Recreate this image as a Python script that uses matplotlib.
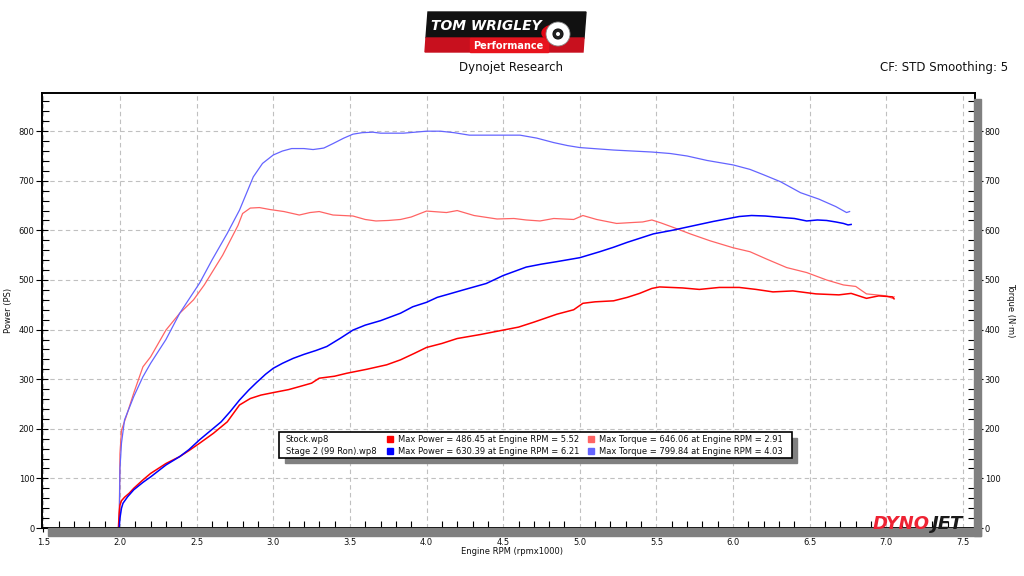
import matplotlib
matplotlib.use('Agg')
import matplotlib.pyplot as plt
from matplotlib.patches import Rectangle, Ellipse, Polygon, Wedge
from matplotlib.ticker import MultipleLocator

# Stock.wp8 - power (PS)
stock_pwr_rpm = [1.99, 1.995, 2.0, 2.01, 2.03, 2.06, 2.09, 2.15, 2.2, 2.3, 2.39, 2.45,
                 2.52, 2.61, 2.7, 2.78, 2.85, 2.92, 3.0, 3.1, 3.17, 3.25, 3.3, 3.4,
                 3.48, 3.61, 3.74, 3.83, 3.92, 4.0, 4.1, 4.2, 4.35, 4.5, 4.6, 4.7,
                 4.85, 4.96, 5.02, 5.1, 5.22, 5.31, 5.39, 5.47, 5.52, 5.67, 5.78,
                 5.91, 6.04, 6.15, 6.26, 6.39, 6.54, 6.69, 6.77, 6.87, 6.95, 7.04, 7.05]
stock_pwr = [0, 30, 46, 55, 62, 70, 80, 97, 110, 130, 144, 156,
             171, 191, 214, 248, 261, 268, 273, 279, 285, 292, 302, 306,
             312, 320, 329, 339, 352, 364, 372, 382, 390, 399, 405, 415,
             431, 440, 453, 456, 458, 465, 473, 483, 486, 484, 481,
             485, 485, 481, 476, 478, 472, 470, 473, 463, 468, 466, 462]

# Stock.wp8 - torque (N-m)
stock_trq_rpm = [1.995, 2.0, 2.01, 2.04, 2.09, 2.15, 2.2, 2.3, 2.39, 2.48, 2.55, 2.61,
                 2.67, 2.72, 2.77, 2.8, 2.85, 2.91, 2.98, 3.07, 3.17, 3.24, 3.3, 3.39,
                 3.52, 3.6, 3.67, 3.75, 3.83, 3.9, 4.0, 4.13, 4.2, 4.31, 4.46, 4.57,
                 4.65, 4.74, 4.83, 4.96, 5.02, 5.11, 5.24, 5.35, 5.41, 5.47, 5.53,
                 5.61, 5.72, 5.85, 6.0, 6.11, 6.22, 6.35, 6.48, 6.61, 6.72, 6.8,
                 6.87, 7.0, 7.04, 7.05]
stock_trq = [0, 150, 197, 224, 272, 325, 345, 399, 433, 460, 490, 520,
             550, 580, 610, 634, 645, 646, 642, 638, 631, 636, 638, 631,
             629, 622, 619, 620, 622, 627, 639, 636, 640, 630, 623, 624,
             621, 619, 624, 622, 630, 622, 614, 616, 617, 621, 615,
             606, 593, 579, 565, 557, 542, 525, 515, 500, 490, 487,
             472, 468, 463, 466]

# Stage 2 (99 Ron).wp8 - power (PS)
stage2_pwr_rpm = [1.995, 2.0, 2.01, 2.02, 2.05, 2.09, 2.15, 2.2, 2.3, 2.39, 2.45, 2.52,
                  2.59, 2.66, 2.72, 2.78, 2.84, 2.89, 2.95, 3.0, 3.06, 3.13, 3.2, 3.28,
                  3.35, 3.44, 3.52, 3.6, 3.7, 3.83, 3.91, 4.0, 4.07, 4.15, 4.24, 4.39,
                  4.5, 4.65, 4.75, 4.85, 5.0, 5.13, 5.22, 5.31, 5.39, 5.48, 5.6, 5.72,
                  5.87, 6.04, 6.12, 6.21, 6.32, 6.4, 6.48, 6.55, 6.61, 6.67, 6.72,
                  6.75, 6.77]
stage2_pwr = [0, 20, 40, 50, 63, 77, 92, 103, 127, 144, 158, 178,
              196, 214, 235, 258, 278, 293, 310, 322, 332, 342, 350, 358,
              366, 383, 399, 409, 418, 433, 446, 455, 465, 472, 480, 493,
              509, 526, 532, 537, 545, 557, 566, 576, 584, 593, 600, 608,
              618, 628, 630, 629, 626, 624, 619, 621, 620, 617, 614,
              611, 612]

# Stage 2 (99 Ron).wp8 - torque (N-m)
stage2_trq_rpm = [1.995, 2.0, 2.01, 2.03, 2.09, 2.15, 2.2, 2.3, 2.39, 2.52, 2.6, 2.7,
                  2.78, 2.87, 2.93, 3.0, 3.06, 3.12, 3.2, 3.26, 3.33, 3.39, 3.46, 3.52,
                  3.58, 3.65, 3.7, 3.85, 4.0, 4.09, 4.18, 4.28, 4.45, 4.61, 4.72, 4.83,
                  4.92, 5.0, 5.22, 5.47, 5.59, 5.7, 5.83, 6.0, 6.11, 6.2, 6.31, 6.44,
                  6.56, 6.67, 6.74, 6.76]
stage2_trq = [0, 120, 171, 218, 265, 305, 332, 380, 433, 494, 540, 594,
              641, 708, 735, 752, 760, 765, 765, 763, 766, 775, 786, 794,
              797, 798, 796, 796, 800, 800, 797, 792, 792, 792, 786, 777,
              771, 767, 762, 758, 755, 750, 741, 732, 723, 712, 698, 676,
              663, 648, 636, 638]

run_names = ['Stock.wp8', 'Stage 2 (99 Ron).wp8']
max_power_txt = ['Max Power = 486.45 at Engine RPM = 5.52',
                 'Max Power = 630.39 at Engine RPM = 6.21']
max_torque_txt = ['Max Torque = 646.06 at Engine RPM = 2.91',
                  'Max Torque = 799.84 at Engine RPM = 4.03']

PWR_COLORS = ['#ff0000', '#0000ff']
TRQ_COLORS = ['#ff6464', '#6464ff']
TXT = '#101010'
W, H = 1024, 576


# pixel (from top-left) -> figure fraction
def fx(x):
    return x / W


def fy(y):
    return 1 - y / H


def box(x0, y0, x1, y1, **kw):
    fig.patches.append(Rectangle((fx(x0), fy(y1)), fx(x1) - fx(x0), fy(y0) - fy(y1),
                                 transform=fig.transFigure, **kw))


fig = plt.figure(figsize=(W / 100, H / 100), dpi=100)
plt.rcParams['font.family'] = ['DejaVu Sans']

# drop shadow of the plot frame
box(48, 528, 981, 536, color='#808080', zorder=0)
box(974, 99, 981, 536, color='#808080', zorder=0)

ax = fig.add_axes([fx(42), fy(528), fx(975) - fx(42), fy(93) - fy(528)])
ax.set_xlim(1.4915, 7.578)
ax.set_ylim(0, 877)

ax.plot(stock_trq_rpm, stock_trq, color=TRQ_COLORS[0], lw=0.9)
ax.plot(stage2_trq_rpm, stage2_trq, color=TRQ_COLORS[1], lw=0.9)
ax.plot(stock_pwr_rpm, stock_pwr, color=PWR_COLORS[0], lw=1.1)
ax.plot(stage2_pwr_rpm, stage2_pwr, color=PWR_COLORS[1], lw=1.1)

ax.xaxis.set_minor_locator(MultipleLocator(0.1))
ax.yaxis.set_major_locator(MultipleLocator(100))
ax.yaxis.set_minor_locator(MultipleLocator(20))
ax.set_xticks([1.5 + 0.5 * i for i in range(13)])
ax.set_xticklabels(['%.1f' % (1.5 + 0.5 * i) for i in range(13)])
ax.grid(True, which='major', color='#c0c0c0', ls=(0, (4, 3)), lw=0.8)
ax.tick_params(axis='x', which='major', direction='out', length=3, labelsize=6,
               labelcolor=TXT, pad=4)
ax.tick_params(axis='x', which='minor', direction='in', length=5, width=0.8)
ax.tick_params(axis='y', which='major', direction='inout', length=9, labelsize=6,
               labelcolor=TXT, pad=1)
ax.tick_params(axis='y', which='minor', direction='in', length=5, width=0.8)
for s in ax.spines.values():
    s.set_linewidth(1.2)

ax2 = ax.twinx()
ax2.set_ylim(0, 877)
ax2.yaxis.set_major_locator(MultipleLocator(100))
ax2.yaxis.set_minor_locator(MultipleLocator(20))
ax2.tick_params(axis='y', which='major', direction='out', length=6, labelsize=6,
                labelcolor=TXT, pad=1)
ax2.tick_params(axis='y', which='minor', direction='in', length=5, width=0.8)
for s in ax2.spines.values():
    s.set_linewidth(1.2)

fig.text(fx(9), fy(310), 'Power (PS)', rotation=90, fontsize=6, color=TXT,
         ha='center', va='center')
fig.text(fx(1011), fy(310), 'Torque (N\u00b7m)', rotation=270, fontsize=6, color=TXT,
         ha='center', va='center')
fig.text(fx(512), fy(552), 'Engine RPM (rpmx1000)', fontsize=6, color=TXT,
         ha='center', va='center')

# header texts
fig.text(fx(511), fy(67), 'Dynojet Research', fontsize=8.5, color=TXT,
         ha='center', va='center')
fig.text(fx(1008), fy(67), 'CF: STD Smoothing: 5', fontsize=8.5, color=TXT,
         ha='right', va='center')

# Tom Wrigley logo
fig.patches.append(Polygon([(fx(428), fy(12)), (fx(586), fy(12)), (fx(584), fy(38)),
                            (fx(426), fy(38))], closed=True, transform=fig.transFigure,
                           color='#111111'))
fig.patches.append(Polygon([(fx(426), fy(38)), (fx(584), fy(38)), (fx(583), fy(52)),
                            (fx(425), fy(52))], closed=True, transform=fig.transFigure,
                           color='#c8101e'))
box(470, 38, 548, 52, color='#e8141e')
fig.patches.append(Wedge((fx(557), fy(33)), 15 / W, 80, 250, width=4 / W,
                         transform=fig.transFigure, color='#e30613'))
fig.patches.append(Ellipse((fx(558), fy(34)), 24 / W, 24 / H, transform=fig.transFigure,
                           facecolor='white', edgecolor='#888888', lw=0.6))
fig.patches.append(Ellipse((fx(558), fy(34)), 10 / W, 10 / H, transform=fig.transFigure,
                           facecolor='#222222', edgecolor='#111111', lw=0.8))
fig.patches.append(Ellipse((fx(558), fy(34)), 4 / W, 4 / H, transform=fig.transFigure,
                           facecolor='white', lw=0))
fig.text(fx(486), fy(26), 'TOM WRIGLEY', fontsize=10, fontweight='bold',
         fontstyle='italic', color='white', ha='center', va='center')
fig.text(fx(508), fy(46), 'Performance', fontsize=7, fontweight='bold',
         color='white', ha='center', va='center')

# legend box with shadow
box(285, 438, 797, 463, color='#808080', zorder=3)
box(279, 432, 792, 458, facecolor='white', edgecolor='black', lw=1.2, zorder=4)
for i, ly in enumerate([439, 451]):
    fig.text(fx(286), fy(ly), run_names[i], fontsize=6, color=TXT, va='center', zorder=5)
    box(387, ly - 3, 393, ly + 3, color=PWR_COLORS[i], zorder=5)
    fig.text(fx(398), fy(ly), max_power_txt[i], fontsize=6, color=TXT, va='center', zorder=5)
    box(588, ly - 3, 594, ly + 3, color=TRQ_COLORS[i], zorder=5)
    fig.text(fx(599), fy(ly), max_torque_txt[i], fontsize=6, color=TXT, va='center', zorder=5)

# Dynojet mark in the corner
fig.text(fx(930), fy(529), 'DYNO', fontsize=13, fontweight='heavy', fontstyle='italic',
         color='#ee2233', ha='right', va='baseline', zorder=6)
fig.text(fx(932), fy(529), 'JET', fontsize=13, fontweight='heavy', fontstyle='italic',
         color='#1a1a1a', ha='left', va='baseline', zorder=6)

plt.savefig('out.png', dpi=100)
